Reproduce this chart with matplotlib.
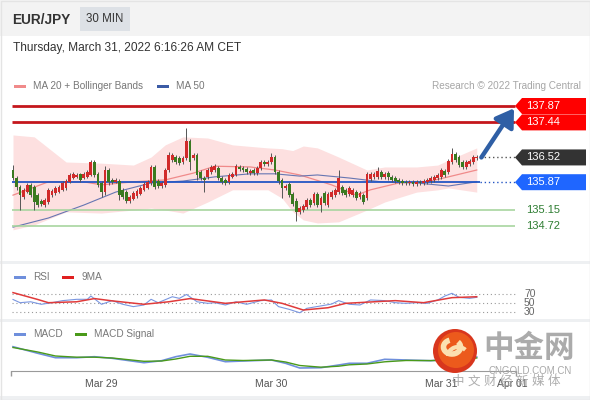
import numpy as np
import matplotlib
matplotlib.use('Agg')
import matplotlib.pyplot as plt
from matplotlib.patches import Rectangle, Polygon, Circle, Arc

plt.rcParams['font.family'] = ['Liberation Sans', 'Noto Sans CJK SC', 'DejaVu Sans']

# EUR/JPY 30 min candles
opens = [136.19, 135.98, 135.74, 135.48, 135.61, 135.80, 135.74, 135.53, 135.38, 135.27,
         135.35, 135.53, 135.59, 135.61, 135.67, 135.72, 135.88, 135.98, 136.01, 136.09,
         135.98, 136.01, 136.06, 136.40, 136.09, 135.85, 135.61, 136.19, 135.93, 135.88,
         135.90, 135.67, 135.61, 135.38, 135.43, 135.51, 135.56, 135.67, 135.72, 135.85,
         136.27, 135.90, 135.77, 135.80, 136.19, 136.45, 136.53, 136.50, 136.40, 136.50,
         136.95, 136.50, 136.58, 136.14, 135.98, 136.01, 136.14, 136.19, 136.24, 135.98,
         135.93, 135.88, 136.01, 136.06, 136.27, 136.24, 136.22, 136.11, 136.19, 136.11,
         136.24, 136.40, 136.35, 136.40, 136.53, 136.14, 135.93, 135.72, 135.82, 135.56,
         135.38, 135.09, 135.14, 135.22, 135.40, 135.32, 135.56, 135.27, 135.59, 135.27,
         135.48, 135.53, 135.61, 135.74, 135.67, 135.56, 135.53, 135.61, 135.48, 135.53,
         135.45, 135.95, 136.01, 136.01, 136.14, 136.01, 136.11, 136.01, 135.98, 135.93,
         135.90, 135.88, 135.85, 135.88, 135.82, 135.88, 135.85, 135.88, 135.90, 135.93,
         135.98, 136.01, 136.16, 136.14, 136.40, 136.61, 136.53, 136.40, 136.27, 136.35,
         136.40, 136.50]
closes = [135.98, 135.74, 135.53, 135.67, 135.80, 135.53, 135.35, 135.27, 135.30, 135.40,
          135.67, 135.64, 135.72, 135.74, 135.85, 135.90, 136.06, 136.09, 136.06, 135.93,
          136.09, 136.14, 136.40, 136.06, 135.80, 135.61, 136.19, 135.88, 135.88, 135.93,
          135.53, 135.48, 135.38, 135.48, 135.59, 135.64, 135.72, 135.82, 135.88, 136.27,
          135.74, 135.77, 135.85, 136.19, 136.58, 136.58, 136.40, 136.37, 136.50, 136.95,
          136.40, 136.58, 136.06, 135.98, 135.93, 136.19, 136.27, 136.29, 135.98, 135.88,
          135.85, 136.06, 136.09, 136.29, 136.22, 136.19, 136.14, 136.16, 136.11, 136.24,
          136.40, 136.35, 136.40, 136.53, 136.14, 135.90, 135.72, 135.77, 135.53, 135.30,
          135.09, 135.19, 135.25, 135.40, 135.27, 135.56, 135.27, 135.45, 135.32, 135.56,
          135.61, 135.67, 135.98, 135.59, 135.53, 135.72, 135.67, 135.45, 135.59, 135.35,
          136.09, 136.09, 136.09, 136.16, 136.01, 136.09, 136.01, 135.93, 135.90, 135.88,
          135.85, 135.85, 135.88, 135.82, 135.88, 135.85, 135.90, 135.93, 135.98, 136.01,
          136.06, 136.19, 136.06, 136.43, 136.61, 136.45, 136.32, 136.27, 136.40, 136.43,
          136.53, 136.52]
highs = [136.32, 136.03, 135.80, 135.72, 135.85, 135.85, 135.80, 135.59, 135.43, 135.45,
         135.72, 135.69, 135.77, 135.80, 135.90, 135.95, 136.11, 136.14, 136.11, 136.11,
         136.14, 136.19, 136.45, 136.45, 136.14, 135.90, 136.29, 136.24, 135.98, 135.98,
         135.95, 135.72, 135.67, 135.53, 135.64, 135.69, 135.77, 135.88, 135.93, 136.32,
         136.32, 135.95, 135.90, 136.24, 136.66, 136.64, 136.58, 136.56, 136.56, 137.29,
         137.00, 136.64, 136.64, 136.19, 136.03, 136.24, 136.32, 136.35, 136.29, 136.03,
         135.98, 136.11, 136.14, 136.35, 136.32, 136.29, 136.27, 136.22, 136.24, 136.29,
         136.45, 136.45, 136.45, 136.64, 136.58, 136.19, 135.98, 135.82, 135.88, 135.61,
         135.45, 135.25, 135.30, 135.45, 135.45, 135.61, 135.61, 135.51, 135.64, 135.61,
         135.67, 135.72, 136.19, 135.80, 135.72, 135.77, 135.72, 135.67, 135.64, 135.59,
         136.14, 136.14, 136.14, 136.27, 136.19, 136.14, 136.16, 136.06, 136.03, 135.98,
         135.95, 135.93, 135.93, 135.93, 135.93, 135.93, 135.95, 135.98, 136.03, 136.06,
         136.11, 136.24, 136.22, 136.48, 136.77, 136.66, 136.58, 136.45, 136.45, 136.48,
         136.58, 136.58]
lows = [135.93, 135.67, 135.14, 135.43, 135.59, 135.48, 135.14, 135.22, 135.25, 135.22,
        135.30, 135.48, 135.53, 135.59, 135.64, 135.67, 135.85, 135.95, 135.98, 135.88,
        135.95, 135.98, 136.03, 136.01, 135.74, 135.48, 135.53, 135.80, 135.82, 135.85,
        135.40, 135.43, 135.32, 135.32, 135.40, 135.45, 135.53, 135.64, 135.69, 135.80,
        135.69, 135.72, 135.72, 135.74, 136.14, 136.40, 136.35, 136.32, 136.35, 136.45,
        136.19, 136.45, 135.93, 135.93, 135.61, 135.95, 136.09, 136.14, 135.93, 135.82,
        135.80, 135.82, 135.98, 136.03, 136.16, 136.14, 136.09, 136.06, 136.06, 136.06,
        136.19, 136.29, 136.29, 136.35, 136.09, 135.82, 135.45, 135.67, 135.48, 135.25,
        134.85, 135.04, 135.09, 135.17, 135.22, 135.27, 135.22, 135.09, 135.27, 135.22,
        135.43, 135.48, 135.56, 135.53, 135.48, 135.51, 135.48, 135.40, 135.43, 135.30,
        135.40, 135.90, 135.95, 135.95, 135.95, 135.95, 135.93, 135.88, 135.85, 135.82,
        135.80, 135.80, 135.80, 135.77, 135.77, 135.80, 135.80, 135.82, 135.85, 135.88,
        135.93, 135.95, 136.01, 136.09, 136.35, 136.40, 136.27, 136.22, 136.22, 136.29,
        136.35, 136.45]

# Bollinger bands, MA 20 and MA 50 (bar index, price)
band_x = [0, 6, 15, 25, 34, 39, 43, 48, 55, 62, 72, 76, 79, 82, 86, 92, 100, 105, 114, 120, 123, 131]
band_upper = [137.11, 137.06, 136.40, 136.37, 136.32, 136.53, 136.85, 137.06, 137.03, 136.85, 136.77,
              136.75, 136.70, 136.82, 136.77, 136.53, 136.19, 136.27, 136.27, 136.32, 136.45, 136.77]
band_lower = [134.62, 134.75, 135.09, 135.06, 135.14, 135.19, 135.14, 135.06, 135.35, 135.67, 135.67,
              135.45, 135.10, 134.88, 134.80, 134.83, 135.14, 135.35, 135.61, 135.67, 135.72, 135.61]
ma20_x = [0, 6, 10, 20, 25, 34, 43, 51, 57, 67, 74, 81, 90, 97, 101, 109, 117, 123, 131]
ma20 = [135.53, 135.74, 135.88, 135.88, 135.80, 135.88, 135.93, 136.11, 136.29, 136.27,
        136.19, 136.06, 135.80, 135.53, 135.67, 135.85, 135.88, 136.01, 136.19]
ma50_x = [0, 10, 20, 29, 39, 48, 57, 67, 74, 81, 86, 95, 104, 114, 123, 131]
ma50 = [134.69, 134.93, 135.27, 135.61, 135.85, 135.90, 136.01, 136.09, 136.09, 136.03,
        136.06, 135.98, 135.88, 135.85, 135.77, 135.88]

resistance = [137.87, 137.44]
support = [135.15, 134.72]
pivot = 135.87
last_price = 136.52

# RSI and its 9 period MA
rsi_x = [0, 2, 5, 8, 11, 14, 18, 21, 22, 25, 28, 31, 34, 37, 39, 41, 45, 47, 49, 52, 55, 57, 60, 63,
         66, 70, 73, 75, 78, 81, 83, 87, 90, 92, 95, 98, 101, 105, 108, 111, 114, 117, 120, 122,
         124, 126, 129, 131]
rsi = [58, 51, 53, 47.5, 51, 55.5, 58.4, 58.4, 65.6, 47.5, 55.5, 47.5, 42.4, 46, 58.4, 51, 64, 60.5,
       69, 53, 49.6, 51, 46, 53, 47.5, 55.5, 57, 42.4, 36.5, 29, 38.7, 44, 48, 55.5, 47.5, 46, 57,
       55.5, 51, 49.6, 51, 49.6, 57, 65.6, 71.5, 62.7, 60.5, 62.7]
ma9_x = [0, 7, 10, 18, 23, 28, 37, 44, 50, 60, 71, 76, 82, 89, 94, 102, 108, 116, 124, 131]
ma9 = [73, 58, 51, 53, 60, 55, 47.5, 53, 60, 49.6, 57, 49.6, 35, 40, 49.6, 53, 55.5, 51, 62, 64]
rsi_levels = [70, 50, 30]

# MACD and signal
macd_x = [0, 7, 12, 18, 23, 28, 37, 42, 46, 50, 55, 60, 65, 73, 77, 81, 87, 92, 95, 100, 105, 111,
          118, 124, 131]
macd = [0.133, 0.067, 0.023, 0.023, 0.033, 0.017, -0.027, -0.007, 0.033, 0.06, 0.027, -0.017,
        -0.01, 0.0, -0.033, -0.08, -0.077, -0.05, -0.033, -0.033, 0.007, 0.0, -0.007, 0.01, 0.03]
signal = [0.125, 0.08, 0.04, 0.028, 0.028, 0.02, -0.013, -0.01, 0.01, 0.037, 0.037, 0.0, -0.005,
          0.0, -0.02, -0.055, -0.072, -0.062, -0.048, -0.04, -0.018, -0.005, -0.006, 0.0, 0.02]

day_labels = ['Mar 29', 'Mar 30', 'Mar 31', 'Apr 01']
first_bar_hour = 11.5   # Mar 28 11:30

W, H = 590, 400


def box(left, top, width, height):
    return [left / W, 1 - (top + height) / H, width / W, height / H]


def xi(px):
    # pixel column -> bar index
    return (px - 13) / 3.54


fig = plt.figure(figsize=(W / 100, H / 100), dpi=100)
fig.patch.set_facecolor('white')

bg = fig.add_axes([0, 0, 1, 1], zorder=0)
bg.set_xlim(0, W)
bg.set_ylim(H, 0)
bg.axis('off')

# header and panel separators
bg.add_patch(Rectangle((0, 0), W, 36, color='#f3f3f3', lw=0))
bg.add_patch(Rectangle((80, 7), 50, 24, color='#dde1e6', lw=0))
bg.add_patch(Rectangle((0, 261), W, 3, color='#eef0f2', lw=0))
bg.add_patch(Rectangle((0, 319), W, 3, color='#eef0f2', lw=0))
bg.add_patch(Rectangle((0, 396), W, 4, color='#eef0f2', lw=0))
bg.add_patch(Rectangle((0.5, 0.5), W - 1, H - 1, fill=False, ec='#e4e4e4', lw=1))
bg.text(12, 20, 'EUR/JPY', fontsize=9.8, fontweight='bold', color='#333333', va='center')
bg.text(105, 19.5, '30 MIN', fontsize=8.3, color='#333333', va='center', ha='center')
bg.text(13, 48, 'Thursday, March 31, 2022 6:16:26 AM CET', fontsize=8.6, color='#333333', va='center')

# legends
bg.add_patch(Rectangle((14, 84.5), 12, 3.5, color='#f08a8a', lw=0))
bg.text(33, 86, 'MA 20 + Bollinger Bands', fontsize=7.2, color='#777777', va='center')
bg.add_patch(Rectangle((157, 84.5), 12, 3.5, color='#3b5ba5', lw=0))
bg.text(176, 86, 'MA 50', fontsize=7.2, color='#777777', va='center')
bg.text(581, 86, 'Research \u00a9 2022 Trading Central', fontsize=7.2, color='#a6a6a6', va='center', ha='right')
bg.add_patch(Rectangle((14, 275.5), 12, 3.5, color='#6f8fdc', lw=0))
bg.text(33, 277, 'RSI', fontsize=7.2, color='#777777', va='center')
bg.add_patch(Rectangle((62, 275.5), 12, 3.5, color='#e02020', lw=0))
bg.text(82, 277, '9MA', fontsize=7.2, color='#777777', va='center')
bg.add_patch(Rectangle((14, 332.5), 12, 3.5, color='#6f8fdc', lw=0))
bg.text(33, 334, 'MACD', fontsize=7.2, color='#777777', va='center')
bg.add_patch(Rectangle((75, 332.5), 12, 3.5, color='#4a9a1a', lw=0))
bg.text(94, 334, 'MACD Signal', fontsize=7.2, color='#777777', va='center')

# main price panel
ax = fig.add_axes(box(12, 97, 576, 143), zorder=2)
ax.patch.set_alpha(0)
ax.axis('off')
ax.set_xlim(xi(12), xi(588))
ax.set_ylim(137.87 - 134 / 38.1, 137.87 + 9 / 38.1)

ax.fill_between(band_x, band_lower, band_upper, color='#fde0e0', lw=0, zorder=1)
ax.plot(ma20_x, ma20, color='#f08a8a', lw=0.9, zorder=2)
ax.plot(ma50_x, ma50, color='#6676b2', lw=0.8, zorder=2)

idx = np.arange(len(closes))
o = np.array(opens)
c = np.array(closes)
cols = np.where(c >= o, '#d12a2a', '#3a7a20')
ax.vlines(idx, lows, highs, color='#555555', lw=0.7, zorder=3)
ax.bar(idx, np.maximum(np.abs(c - o), 0.018), bottom=np.minimum(o, c), width=0.78,
       color=cols, lw=0, zorder=4)

end_x = xi(515)
ax.hlines(resistance, xi(12), end_x, color='#c4161c', lw=2, zorder=2)
ax.hlines(support, xi(12), end_x, color='#a8d5a0', lw=1.2, zorder=2)
ax.hlines(pivot, xi(12), idx[-1] + 1, color='#2456c4', lw=1.3, zorder=2)
ax.hlines(pivot, idx[-1] + 1, end_x, color='#2456c4', lw=1, linestyles=(0, (1, 2)), zorder=2)
ax.hlines(last_price, idx[-1] + 1, end_x, color='#555555', lw=1, linestyles=(0, (1, 2)), zorder=2)

ax.annotate('', xy=(xi(514), resistance[0] - 0.06), xytext=(idx[-1] + 1.3, last_price),
            arrowprops=dict(arrowstyle='-|>,head_length=0.7,head_width=0.45', color='#2f5fa5',
                            lw=3.2, shrinkA=0, shrinkB=0, mutation_scale=15), zorder=6)

# price tags on the right
half = 8 / 38.1
tags = [(resistance[0], '#ff0000'), (resistance[1], '#ff0000'),
        (last_price, '#333333'), (pivot, '#1f66ff')]
for val, col in tags:
    pts = [(end_x, val), (xi(522), val + half), (xi(586), val + half),
           (xi(586), val - half), (xi(522), val - half)]
    ax.add_patch(Polygon(pts, closed=True, color=col, lw=0, clip_on=False, zorder=5))
    ax.text(xi(526), val, '%.2f' % val, color='white', fontsize=8, va='center', clip_on=False, zorder=6)
for val in support:
    ax.text(xi(526), val, '%.2f' % val, color='#2e7d32', fontsize=8, va='center', clip_on=False)

# RSI panel
ra = fig.add_axes(box(12, 286, 576, 32), zorder=2)
ra.patch.set_alpha(0)
ra.axis('off')
ra.set_xlim(xi(12), xi(588))
ra.set_ylim(30 - 5.7 * 40 / 18.3, 70 + 8 * 40 / 18.3)
ra.hlines(rsi_levels, xi(12), end_x, color='#9a9a9a', lw=0.8, linestyles=(0, (1, 2.5)))
ra.plot(rsi_x, rsi, color='#7a96e0', lw=0.8)
ra.plot(ma9_x, ma9, color='#e03a3a', lw=1.1)
for lv in rsi_levels:
    ra.text(xi(524), lv, str(lv), fontsize=7.5, color='#666666', va='center', clip_on=False)

# MACD panel
ma = fig.add_axes(box(12, 338, 576, 33), zorder=2)
ma.patch.set_alpha(0)
ma.set_xlim(xi(12), xi(588))
ma.set_ylim(-0.11, 0.22)
ma.plot(macd_x, macd, color='#6f8fdc', lw=1.2)
ma.plot(macd_x, signal, color='#4a9a1a', lw=1.0)
for s in ['top', 'right', 'left']:
    ma.spines[s].set_visible(False)
ma.spines['bottom'].set_color('#9a9a9a')
ma.spines['bottom'].set_bounds(xi(11), xi(516))
ma.set_yticks([])
day_pos = [(24 - first_bar_hour) * 2 + 48 * k for k in range(3)] + [xi(512)]
ma.set_xticks(day_pos)
ma.set_xticklabels(day_labels)
ma.tick_params(axis='x', length=0, pad=6, labelsize=7.5, labelcolor='#555555')
ma.vlines([xi(11), xi(516)], -0.11 - 0.05, -0.11, color='#9a9a9a', lw=1, clip_on=False)

# cngold watermark
fg = fig.add_axes([0, 0, 1, 1], zorder=10)
fg.set_xlim(0, W)
fg.set_ylim(H, 0)
fg.axis('off')
fg.add_patch(Circle((455, 351), 22, color='#d8361d', lw=0))
fg.add_patch(Circle((456, 350), 18, color='#ec5a1c', lw=0))
fg.add_patch(Arc((452, 347), 17, 14, theta1=-40, theta2=250, color='#fbe0b0', lw=4))
fg.add_patch(Arc((458, 356), 20, 18, theta1=180, theta2=320, color='#fbe0b0', lw=3))
fg.text(529, 349, '中金网', fontsize=22, fontweight='bold', color='#9c9c9c', ha='center', va='center', alpha=0.85)
fg.text(530, 371, 'CNGOLD.COM.CN', fontsize=7, color='#a8a8a8', ha='center', va='center')
fg.text(506, 382, '中 文 财 经 新 媒 体', fontsize=9, color='#9a9a9a', ha='center', va='center', alpha=0.8)

fig.savefig('out.png', dpi=100)
